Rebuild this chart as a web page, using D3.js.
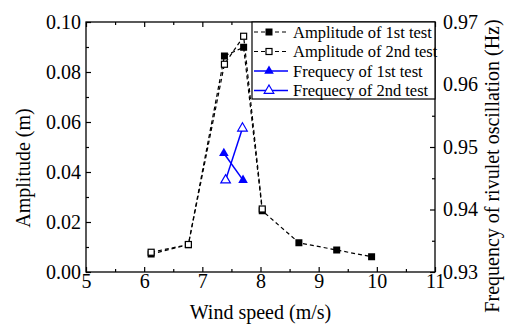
<!DOCTYPE html>
<html>
<head>
<meta charset="utf-8">
<script src="https://cdn.jsdelivr.net/npm/d3@7"></script>
<style>
  html, body { margin: 0; padding: 0; background: #fff; }
  svg { display: block; }
  text { font-family: "Liberation Serif", "Times New Roman", Times, "DejaVu Serif", serif; fill: #000; }
</style>
</head>
<body>
<svg id="chart" width="506" height="326"></svg>
<script>
// Wind speed (m/s) of each test point
const windSpeed1 = [6.12, 6.76, 7.38, 7.71, 8.03, 8.66, 9.31, 9.91];
const amplitude1 = [0.0072, 0.0109, 0.0864, 0.0899, 0.0245, 0.0117, 0.0088, 0.0061];
const windSpeed2 = [6.12, 6.76, 7.38, 7.71, 8.03];
const amplitude2 = [0.0079, 0.0110, 0.0831, 0.0943, 0.0252];
// Rivulet oscillation frequency (Hz)
const freqSpeed1 = [7.37, 7.70];
const frequency1 = [0.9490, 0.9447];
const freqSpeed2 = [7.40, 7.69];
const frequency2 = [0.9447, 0.9530];

const xTicks = [5, 6, 7, 8, 9, 10, 11];
const yTicks = [0, 0.02, 0.04, 0.06, 0.08, 0.10];
const fTicks = [0.93, 0.94, 0.95, 0.96, 0.97];
const legendLabels = ["Amplitude of 1st test", "Amplitude of 2nd test", "Frequecy of 1st test", "Frequecy of 2nd test"];

const FONT = '"Liberation Serif", "Times New Roman", Times, "DejaVu Serif", serif';
const m = { left: 86, right: 435, top: 22, bottom: 272 };
const svg = d3.select("#chart");

const x = d3.scaleLinear().domain([5, 11]).range([m.left, m.right]);
const y = d3.scaleLinear().domain([0, 0.10]).range([m.bottom, m.top]);
const yf = d3.scaleLinear().domain([0.93, 0.97]).range([m.bottom, m.top]);

const fmt2 = d3.format(".2f");

// Axes: major ticks pointing inward, plus minor ticks
function styleAxis(g) {
  g.attr("font-family", null).attr("font-size", null);
  g.select(".domain").remove();
  g.selectAll("line").attr("stroke", "#000").attr("stroke-width", 1.2);
  g.selectAll("text").style("font-family", FONT).style("font-size", "20px").attr("fill", "#000");
}
const xMinor = d3.range(5.5, 11, 1);
const yMinor = d3.range(0.01, 0.1, 0.02);
const fMinor = d3.range(0.935, 0.97, 0.01);

svg.append("g").attr("transform", `translate(0,${m.bottom})`)
  .call(d3.axisBottom(x).tickValues(xTicks).tickFormat(d3.format("d")).tickSize(-5).tickPadding(2))
  .call(styleAxis);
svg.append("g").attr("transform", `translate(0,${m.bottom})`)
  .call(d3.axisBottom(x).tickValues(xMinor).tickFormat("").tickSize(-3))
  .call(styleAxis);
svg.append("g").attr("transform", `translate(0,${m.top})`)
  .call(d3.axisTop(x).tickValues(xTicks).tickFormat("").tickSize(-5))
  .call(styleAxis);
svg.append("g").attr("transform", `translate(0,${m.top})`)
  .call(d3.axisTop(x).tickValues(xMinor).tickFormat("").tickSize(-3))
  .call(styleAxis);

svg.append("g").attr("transform", `translate(${m.left},0)`)
  .call(d3.axisLeft(y).tickValues(yTicks).tickFormat(fmt2).tickSize(-5).tickPadding(5))
  .call(styleAxis);
svg.append("g").attr("transform", `translate(${m.left},0)`)
  .call(d3.axisLeft(y).tickValues(yMinor).tickFormat("").tickSize(-3))
  .call(styleAxis);

svg.append("g").attr("transform", `translate(${m.right},0)`)
  .call(d3.axisRight(yf).tickValues(fTicks).tickFormat(fmt2).tickSize(-5).tickPadding(8))
  .call(styleAxis);
svg.append("g").attr("transform", `translate(${m.right},0)`)
  .call(d3.axisRight(yf).tickValues(fMinor).tickFormat("").tickSize(-3))
  .call(styleAxis);

// Plot frame
svg.append("rect")
  .attr("x", m.left).attr("y", m.top)
  .attr("width", m.right - m.left).attr("height", m.bottom - m.top)
  .attr("fill", "none").attr("stroke", "#000").attr("stroke-width", 1.3);

// Axis titles
svg.append("text").attr("x", (m.left + m.right) / 2).attr("y", 319)
  .attr("text-anchor", "middle").style("font-size", "20px").text("Wind speed (m/s)");
svg.append("text").attr("transform", "translate(30,168) rotate(-90)")
  .attr("text-anchor", "middle").style("font-size", "20px").text("Amplitude (m)");
svg.append("text").attr("transform", "translate(499,166) rotate(-90)")
  .attr("text-anchor", "middle").style("font-size", "20px").text("Frequency of rivulet oscillation (Hz)");

// Amplitude series
const ampLine = d3.line().x(d => x(d[0])).y(d => y(d[1]));
const amp1 = d3.zip(windSpeed1, amplitude1);
const amp2 = d3.zip(windSpeed2, amplitude2);
const sq = 7;

[amp1, amp2].forEach(data => {
  svg.append("path").datum(data).attr("d", ampLine)
    .attr("fill", "none").attr("stroke", "#000").attr("stroke-width", 1.2)
    .attr("stroke-dasharray", "4,3");
});
svg.append("g").selectAll("rect").data(amp1).join("rect")
  .attr("x", d => x(d[0]) - sq / 2).attr("y", d => y(d[1]) - sq / 2)
  .attr("width", sq).attr("height", sq).attr("fill", "#000");
svg.append("g").selectAll("rect").data(amp2).join("rect")
  .attr("x", d => x(d[0]) - (sq - 1) / 2).attr("y", d => y(d[1]) - (sq - 1) / 2)
  .attr("width", sq - 1).attr("height", sq - 1).attr("fill", "#fff")
  .attr("stroke", "#000").attr("stroke-width", 1.2);

// Frequency series
const blue = "#0000ff";
const freqLine = d3.line().x(d => x(d[0])).y(d => yf(d[1]));
const fr1 = d3.zip(freqSpeed1, frequency1);
const fr2 = d3.zip(freqSpeed2, frequency2);
const tri = d3.symbol().type(d3.symbolTriangle).size(40);

[fr1, fr2].forEach(data => {
  svg.append("path").datum(data).attr("d", freqLine)
    .attr("fill", "none").attr("stroke", blue).attr("stroke-width", 1.5);
});
svg.append("g").selectAll("path").data(fr1).join("path")
  .attr("transform", d => `translate(${x(d[0])},${yf(d[1])})`)
  .attr("d", tri).attr("fill", blue);
svg.append("g").selectAll("path").data(fr2).join("path")
  .attr("transform", d => `translate(${x(d[0])},${yf(d[1])})`)
  .attr("d", tri).attr("fill", "#fff").attr("stroke", blue).attr("stroke-width", 1.2);

// Legend
const lg = svg.append("g");
const lgLeft = 252, lgTop = m.top, lgBottom = 99;
lg.append("rect").attr("x", lgLeft).attr("y", lgTop)
  .attr("width", m.right - lgLeft).attr("height", lgBottom - lgTop)
  .attr("fill", "#fff").attr("stroke", "#000").attr("stroke-width", 1.2);
const rowY = [32, 51.5, 71, 90.5];
legendLabels.forEach((label, i) => {
  const cy = rowY[i];
  const isAmp = i < 2;
  const col = isAmp ? "#000" : blue;
  lg.append("line").attr("x1", lgLeft + 2).attr("x2", lgLeft + 36).attr("y1", cy).attr("y2", cy)
    .attr("stroke", col).attr("stroke-width", isAmp ? 1.2 : 1.5)
    .attr("stroke-dasharray", isAmp ? "4,3" : null);
  const cx = lgLeft + 17;
  if (isAmp) {
    const s = i === 0 ? sq : sq - 1;
    lg.append("rect").attr("x", cx - s / 2).attr("y", cy - s / 2).attr("width", s).attr("height", s)
      .attr("fill", i === 0 ? "#000" : "#fff")
      .attr("stroke", i === 0 ? "none" : "#000").attr("stroke-width", 1.2);
  } else {
    lg.append("path").attr("transform", `translate(${cx},${cy})`).attr("d", tri)
      .attr("fill", i === 2 ? blue : "#fff").attr("stroke", i === 2 ? "none" : blue).attr("stroke-width", 1.2);
  }
  lg.append("text").attr("x", lgLeft + 41).attr("y", cy).attr("dy", "0.34em")
    .style("font-size", "16.5px").text(label);
});
</script>
</body>
</html>
